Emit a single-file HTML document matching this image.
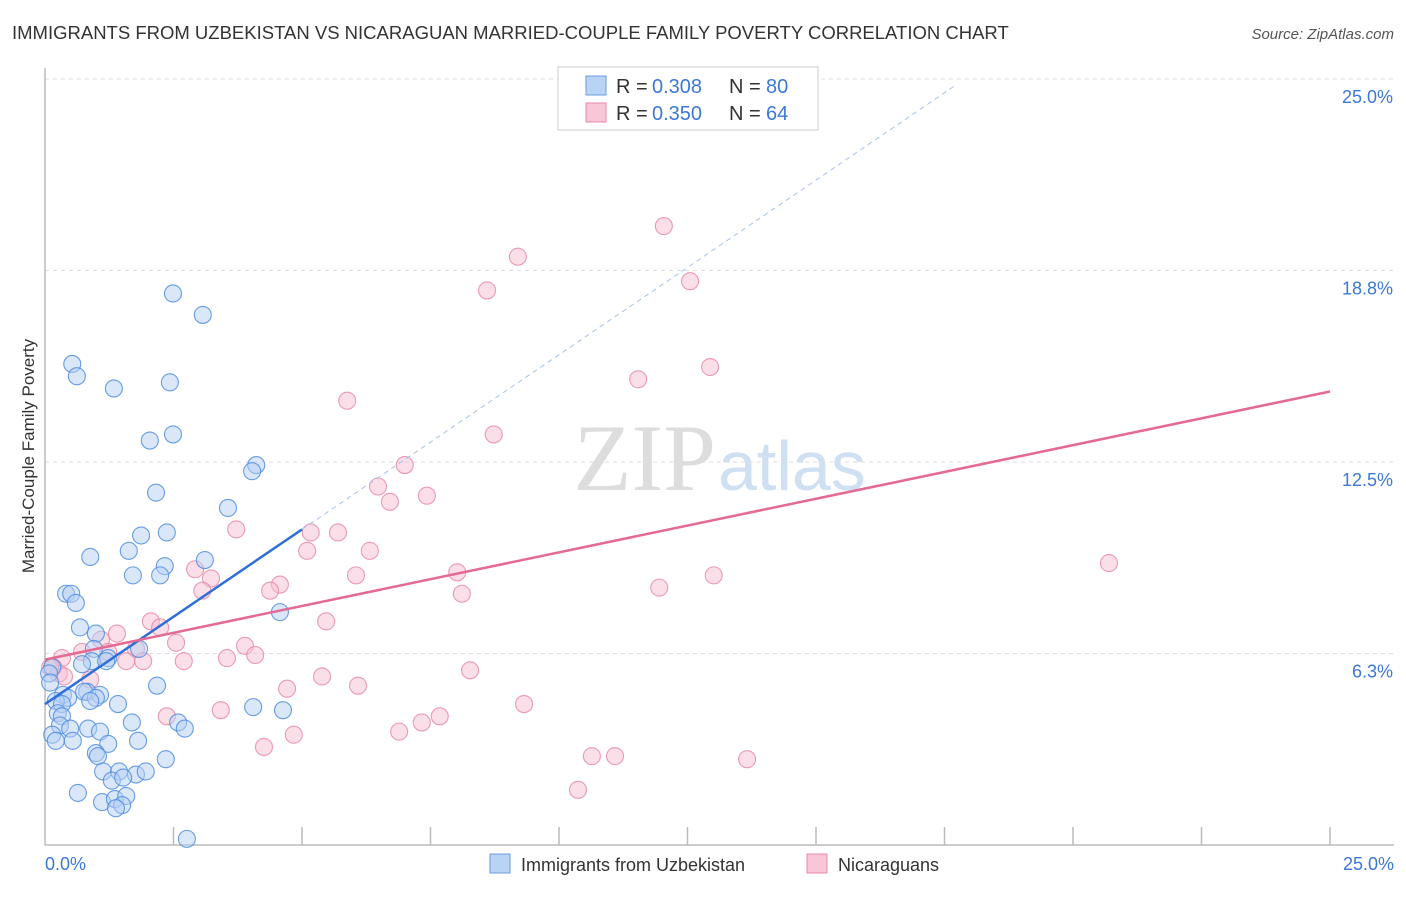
<!DOCTYPE html>
<html><head><meta charset="utf-8"><style>
body{margin:0;background:#fff;font-family:"Liberation Sans",sans-serif}
svg text{font-family:"Liberation Sans",sans-serif}
</style></head><body>
<svg id="c" width="1406" height="892">
<text x="12" y="39" font-size="18.5" fill="#333">IMMIGRANTS FROM UZBEKISTAN VS NICARAGUAN MARRIED-COUPLE FAMILY POVERTY CORRELATION CHART</text>
<text x="1394" y="39" font-size="15" fill="#555" font-style="italic" text-anchor="end">Source: ZipAtlas.com</text>
<text x="34" y="456" font-size="17" fill="#333" text-anchor="middle" transform="rotate(-90 34 456)">Married-Couple Family Poverty</text>
<text x="716" y="490" font-size="95" fill="#ddd" text-anchor="end" style="font-family:'Liberation Serif',serif">ZIP</text>
<text x="718" y="490" font-size="70" fill="#cfe0f3">atlas</text>
<g id="grid"></g><g id="pts"></g><g id="lines"></g>
<g>
<rect x="558" y="67" width="260" height="63" fill="#fff" stroke="#ccc"/>
<rect x="586" y="76" width="20" height="19" fill="#b9d3f5" stroke="#6a9de0"/>
<rect x="586" y="103" width="20" height="19" fill="#f8c6d6" stroke="#e88aa8"/>
<text x="616" y="93" font-size="20" fill="#333">R =</text>
<text x="652" y="93" font-size="20" fill="#3b78d8">0.308</text>
<text x="729" y="93" font-size="20" fill="#333">N =</text>
<text x="766" y="93" font-size="20" fill="#3b78d8">80</text>
<text x="616" y="120" font-size="20" fill="#333">R =</text>
<text x="652" y="120" font-size="20" fill="#3b78d8">0.350</text>
<text x="729" y="120" font-size="20" fill="#333">N =</text>
<text x="766" y="120" font-size="20" fill="#3b78d8">64</text>
</g>
<g>
<rect x="490" y="854" width="20" height="19" fill="#b9d3f5" stroke="#6a9de0"/>
<text x="521" y="871" font-size="18" fill="#333">Immigrants from Uzbekistan</text>
<rect x="807" y="854" width="20" height="19" fill="#f8c6d6" stroke="#e88aa8"/>
<text x="838" y="871" font-size="18" fill="#333">Nicaraguans</text>
</g>
</svg>
<script>
const ns="http://www.w3.org/2000/svg";
const yTicks=[6.25,12.5,18.75,25];
const yTickLabels=["6.3%","12.5%","18.8%","25.0%"];
const xTickLabels=["0.0%","25.0%"];
const blueX=[2.49,3.07,0.53,0.62,1.34,2.43,2.49,2.04,4.11,4.03,2.16,3.56,1.87,2.37,0.88,1.63,3.11,2.33,1.71,2.24,0.41,0.51,0.60,4.57,0.68,0.99,1.83,0.95,1.23,0.91,1.19,0.72,0.14,0.08,2.18,0.82,0.76,1.07,0.35,0.99,0.45,0.21,0.88,0.33,4.05,4.63,1.42,0.25,0.33,0.29,1.69,2.59,2.72,0.84,0.49,1.07,0.14,0.21,1.23,0.54,1.81,0.99,1.03,2.35,1.13,1.44,1.77,1.96,1.30,1.52,0.64,1.11,1.36,1.58,1.50,1.38,2.76,0.10];
const blueY=[18.0,17.3,15.7,15.3,14.9,15.1,13.4,13.2,12.4,12.2,11.5,11.0,10.1,10.2,9.4,9.6,9.3,9.1,8.8,8.8,8.2,8.2,7.9,7.6,7.1,6.9,6.4,6.4,6.1,6.0,6.0,5.9,5.8,5.6,5.2,5.0,5.0,4.9,4.9,4.8,4.8,4.7,4.7,4.6,4.5,4.4,4.6,4.3,4.2,3.9,4.0,4.0,3.8,3.8,3.8,3.7,3.6,3.4,3.3,3.4,3.4,3.0,2.9,2.8,2.4,2.4,2.3,2.4,2.1,2.2,1.7,1.4,1.5,1.6,1.3,1.2,0.2,5.3];
const pinkX=[12.04,9.20,8.60,12.55,12.94,11.54,5.88,8.73,7.00,6.48,6.71,7.43,3.72,5.17,5.70,5.10,6.32,8.02,13.01,6.05,20.70,2.92,3.23,4.57,4.38,3.06,11.95,8.11,2.06,5.47,2.24,1.40,1.09,2.55,3.89,0.72,1.23,1.77,0.33,3.54,4.09,2.70,1.58,1.91,0.16,8.27,0.27,5.39,0.88,4.71,6.09,9.32,3.42,2.37,7.68,7.33,4.84,6.89,4.26,10.64,11.09,13.66,10.37,0.37,0.10];
const pinkY=[20.2,19.2,18.1,18.4,15.6,15.2,14.5,13.4,12.4,11.7,11.2,11.4,10.3,10.2,10.2,9.6,9.6,8.9,8.8,8.8,9.2,9.0,8.7,8.5,8.3,8.3,8.4,8.2,7.3,7.3,7.1,6.9,6.7,6.6,6.5,6.3,6.3,6.4,6.1,6.1,6.2,6.0,6.0,6.0,5.8,5.7,5.6,5.5,5.4,5.1,5.2,4.6,4.4,4.2,4.2,4.0,3.6,3.7,3.2,2.9,2.9,2.8,1.8,5.5,5.8];
const blueFit=[4.6,10.3], pinkFit=[6.05,14.8];
const X=v=>45+v/25*1285, Y=v=>845-v/25*766;
function el(t,a,p){const e=document.createElementNS(ns,t);for(const k in a)e.setAttribute(k,a[k]);p.appendChild(e);return e;}
const g=document.getElementById('grid');
yTicks.forEach((t,i)=>{
 const l=el('line',{x1:45,x2:1394,y1:Y(t),y2:Y(t),stroke:'#ddd','stroke-dasharray':'4,4'},g);
 
 
 const tx=el('text',{x:1393,y:Y(t)+24,'font-size':18,fill:'#3b78d8','text-anchor':'end'},g);
 tx.textContent=yTickLabels[i];
 
 
});
const ax=el('line',{x1:45,x2:1394,y1:845,y2:845,stroke:'#bbb','stroke-width':1.5},g);


const ay=el('line',{x1:45,x2:45,y1:68,y2:845,stroke:'#bbb','stroke-width':1.5},g);


for(let i=1;i<=10;i++){const t=el('line',{x1:X(i*2.5),x2:X(i*2.5),y1:827,y2:845,stroke:'#bbb','stroke-width':1.5},g);
 
 }
[[0,'start',45],[25,'end',1394]].forEach((d,i)=>{const t=el('text',{x:d[2],y:870,'font-size':18,fill:'#3b78d8','text-anchor':d[1]},g);t.textContent=xTickLabels[i];
 
 });
const p=document.getElementById('pts');
function pts(xs,ys,f,s,n){xs.forEach((x,i)=>{const c=el('circle',{cx:X(x),cy:Y(ys[i]),r:8.5,fill:f,'fill-opacity':0.5,stroke:s,'stroke-width':1.1,'stroke-opacity':0.85},p);
 
 });}
pts(pinkX,pinkY,'#f8c0d2','#e889a8','nicaraguan-point');
pts(blueX,blueY,'#b6d0f3','#4f8de0','uzbekistan-point');
const L=document.getElementById('lines');
const lerp=(f,x)=>f[0]+(f[1]-f[0])*x/5;
const bd=el('line',{x1:X(5),y1:Y(lerp(blueFit,5)),x2:X(17.7),y2:Y(lerp(blueFit,17.7)),stroke:'#a5c2ec','stroke-dasharray':'5,4','stroke-width':1},L);


const bs=el('line',{x1:X(0),y1:Y(blueFit[0]),x2:X(5),y2:Y(blueFit[1]),stroke:'#2f6fd6','stroke-width':2.5},L);


const ps=el('line',{x1:X(0),y1:Y(pinkFit[0]),x2:X(25),y2:Y(pinkFit[1]),stroke:'#e46a93','stroke-width':2.5},L);


</script>
</body></html>
